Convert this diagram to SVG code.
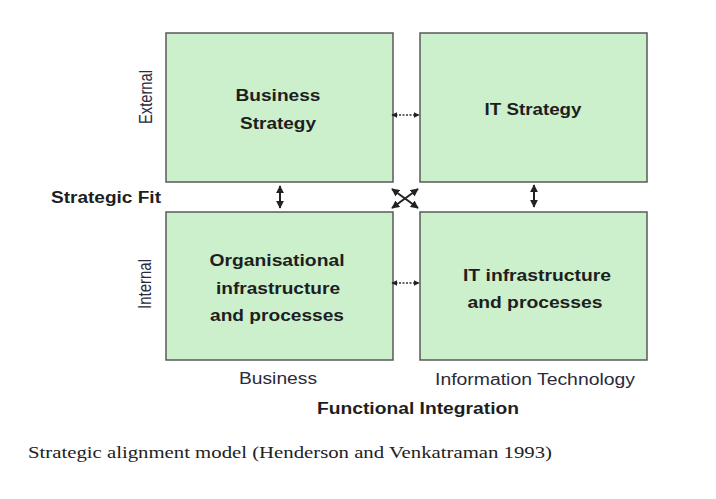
<svg xmlns="http://www.w3.org/2000/svg" width="716" height="499" viewBox="0 0 716 499">
<style>
.box{fill:#ccefcc;stroke:#5a5a5a;stroke-width:1.5}
.b{font-family:"Liberation Sans",Arial,sans-serif;font-weight:bold;font-size:16px;fill:#1e1e1e;text-anchor:middle}
.r{font-family:"Liberation Sans",Arial,sans-serif;font-size:16px;fill:#2a2a3a;text-anchor:middle}
.rv{font-family:"Liberation Sans",Arial,sans-serif;font-size:18px;fill:#2a2a3a;text-anchor:middle}
.cap{font-family:"Liberation Serif","Times New Roman",serif;font-size:16px;fill:#222}
.ln{stroke:#222;stroke-width:2;fill:none}
.dot{stroke:#333;stroke-width:1.3;stroke-dasharray:2 1.5;fill:none}
</style>
<defs>
<marker id="ah" viewBox="0 0 10 10" refX="9" refY="5" markerWidth="6" markerHeight="6" orient="auto-start-reverse" markerUnits="userSpaceOnUse">
<path d="M0,0 L10,5 L0,10 z" fill="#222"/>
</marker>
<marker id="ahs" viewBox="0 0 10 10" refX="9" refY="5" markerWidth="8" markerHeight="8" orient="auto-start-reverse" markerUnits="userSpaceOnUse">
<path d="M0,0 L10,5 L0,10 z" fill="#222"/>
</marker>
</defs>
<rect width="716" height="499" fill="#fff"/>
<g id="business-strategy">
<rect class="box" x="166" y="33" width="227" height="149"/>
<text class="b" x="278" y="101" textLength="85" lengthAdjust="spacingAndGlyphs">Business</text>
<text class="b" x="278" y="129" textLength="76" lengthAdjust="spacingAndGlyphs">Strategy</text>
</g>
<g id="it-strategy">
<rect class="box" x="420" y="33" width="227" height="149"/>
<text class="b" x="533" y="115" textLength="97" lengthAdjust="spacingAndGlyphs">IT Strategy</text>
</g>
<g id="org-infrastructure">
<rect class="box" x="166" y="212" width="227" height="148"/>
<text class="b" x="277" y="266" textLength="135" lengthAdjust="spacingAndGlyphs">Organisational</text>
<text class="b" x="278" y="294" textLength="124" lengthAdjust="spacingAndGlyphs">infrastructure</text>
<text class="b" x="277" y="321" textLength="134" lengthAdjust="spacingAndGlyphs">and processes</text>
</g>
<g id="it-infrastructure">
<rect class="box" x="420" y="212" width="227" height="148"/>
<text class="b" x="537" y="281" textLength="148" lengthAdjust="spacingAndGlyphs">IT infrastructure</text>
<text class="b" x="535" y="308" textLength="135" lengthAdjust="spacingAndGlyphs">and processes</text>
</g>
<g id="labels">
<text class="rv" transform="translate(152,97) rotate(-90)" textLength="54" lengthAdjust="spacingAndGlyphs">External</text>
<text class="rv" transform="translate(151,284) rotate(-90)" textLength="50" lengthAdjust="spacingAndGlyphs">Internal</text>
<text class="b" x="106" y="203" textLength="110" lengthAdjust="spacingAndGlyphs">Strategic Fit</text>
<text class="r" x="278" y="384" textLength="78" lengthAdjust="spacingAndGlyphs">Business</text>
<text class="r" x="535" y="385" textLength="200" lengthAdjust="spacingAndGlyphs">Information Technology</text>
<text class="b" x="418" y="414" textLength="202" lengthAdjust="spacingAndGlyphs">Functional Integration</text>
<text class="cap" x="28" y="458" textLength="524" lengthAdjust="spacingAndGlyphs">Strategic alignment model (Henderson and Venkatraman 1993)</text>
</g>
<g id="connectors">
<line class="dot" x1="392" y1="115" x2="419" y2="115" marker-start="url(#ah)" marker-end="url(#ah)"/>
<line class="dot" x1="392" y1="283" x2="419" y2="283" marker-start="url(#ah)" marker-end="url(#ah)"/>
<line class="ln" x1="280" y1="186" x2="280" y2="208" marker-start="url(#ahs)" marker-end="url(#ahs)"/>
<line class="ln" x1="534" y1="185" x2="534" y2="207" marker-start="url(#ahs)" marker-end="url(#ahs)"/>
<line class="ln" x1="392" y1="189" x2="418" y2="208" marker-start="url(#ahs)" marker-end="url(#ahs)"/>
<line class="ln" x1="392" y1="208" x2="418" y2="189" marker-start="url(#ahs)" marker-end="url(#ahs)"/>
</g>
</svg>
